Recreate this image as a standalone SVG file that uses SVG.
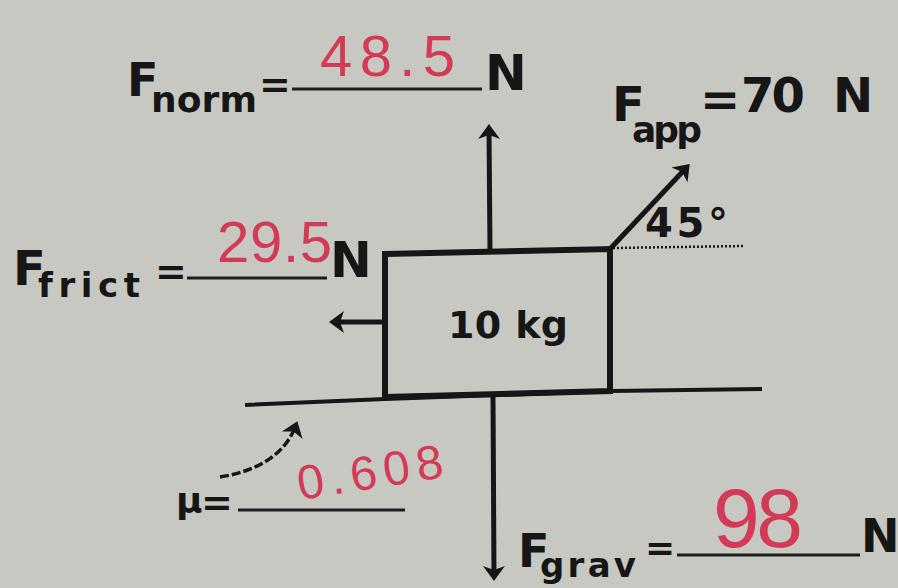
<svg xmlns="http://www.w3.org/2000/svg" width="898" height="588" viewBox="0 0 898 588">
<style>
.lbl{font-family:"DejaVu Sans","Liberation Sans",sans-serif;font-weight:bold;fill:#161616}
.hand{font-family:"Liberation Sans","DejaVu Sans",sans-serif;font-weight:normal;fill:#d33a56}
.ln{stroke:#161616;fill:none;stroke-linecap:butt}
.ul{stroke:#1c1c1c;stroke-width:3;fill:none}
</style>
<defs>
<marker id="ah" viewBox="-13 -13 18 26" refX="0" refY="0" markerWidth="18" markerHeight="26" markerUnits="userSpaceOnUse" orient="auto">
<path d="M4,0 L-11,-11 L-7,0 L-11,11 Z" fill="#161616"/>
</marker>
</defs>
<rect x="0" y="0" width="898" height="588" fill="#c8c8c3"/>

<g id="connectors">
<line class="ln" stroke-width="5" x1="490" y1="252" x2="489" y2="128" marker-end="url(#ah)"/>
<line class="ln" stroke-width="5" x1="493" y1="397" x2="494" y2="577" marker-end="url(#ah)"/>
<line class="ln" stroke-width="5" x1="385" y1="322" x2="333" y2="322" marker-end="url(#ah)"/>
<line class="ln" stroke-width="5" x1="610" y1="249" x2="687" y2="167" marker-end="url(#ah)"/>
<path class="ln" stroke-width="3.5" stroke-dasharray="9,3" d="M220,477 C252,472 284,458 296,425" marker-end="url(#ah)"/>
<line class="ln" stroke-width="2.5" stroke-dasharray="2,2" x1="613" y1="248" x2="745" y2="246"/>
</g>

<g id="ground">
<polyline class="ln" stroke-width="4" points="245,405 385,399 610,391 762,389"/>
</g>

<g id="block">
<polygon class="ln" stroke-width="6" points="385,254 610,249 610,391 385,397"/>
<text class="lbl" x="448" y="338" font-size="38" textLength="120">10 kg</text>
</g>

<g id="f-norm">
<text class="lbl" x="127" y="96" font-size="46">F</text>
<text class="lbl" x="151" y="112" font-size="36" textLength="106">norm</text>
<text class="lbl" x="259" y="97" font-size="38">=</text>
<line class="ul" x1="292" y1="89" x2="482" y2="89"/>
<text class="lbl" x="485" y="90" font-size="50" textLength="33">N</text>
<text class="hand" x="320" y="76" font-size="58" textLength="135">48.5</text>
</g>

<g id="f-frict">
<text class="lbl" x="13" y="285" font-size="48">F</text>
<text class="lbl" x="38" y="297" font-size="34" textLength="102">frict</text>
<text class="lbl" x="155" y="284" font-size="38">=</text>
<line class="ul" x1="187" y1="278" x2="327" y2="278"/>
<text class="lbl" x="330" y="277" font-size="50" textLength="33">N</text>
<text class="hand" x="217" y="262" font-size="58" textLength="115">29.5</text>
</g>

<g id="f-app">
<text class="lbl" x="612" y="121" font-size="48">F</text>
<text class="lbl" x="632" y="142" font-size="36" textLength="70">app</text>
<text class="lbl" font-size="48"><tspan x="700" y="116">=</tspan><tspan x="741" y="112" textLength="64">70</tspan><tspan x="833" y="112" textLength="32"> N</tspan></text>
<text class="lbl" x="645" y="237" font-size="40" textLength="83">45°</text>
</g>

<g id="mu">
<text class="lbl" x="176" y="513" font-size="36">μ</text>
<text class="lbl" x="201" y="515" font-size="38">=</text>
<line class="ul" x1="238" y1="510" x2="405" y2="510"/>
<text class="hand" x="300" y="500" font-size="48" textLength="147" transform="rotate(-9 300 500)">0.608</text>
</g>

<g id="f-grav">
<text class="lbl" x="518" y="567" font-size="46">F</text>
<text class="lbl" x="540" y="577" font-size="34" textLength="96">grav</text>
<text class="lbl" x="645" y="560" font-size="36">=</text>
<line class="ul" x1="677" y1="555" x2="860" y2="555"/>
<text class="lbl" x="861" y="552" font-size="46" textLength="30">N</text>
<text class="hand" x="713" y="547" font-size="84" textLength="90">98</text>
</g>
</svg>
